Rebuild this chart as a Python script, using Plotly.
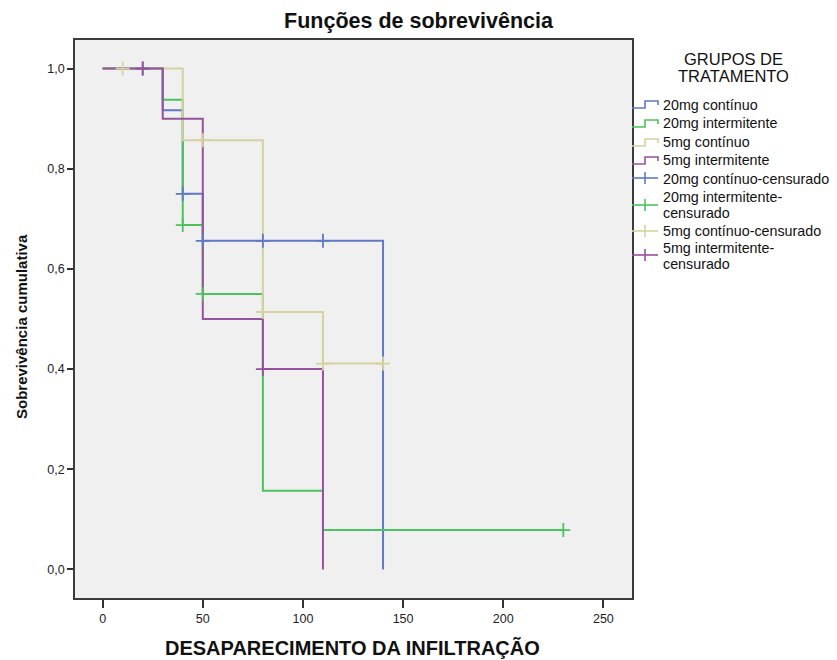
import plotly.graph_objects as go

# Kaplan-Meier step functions: event times and cumulative survival after each step
groups = ["20mg contínuo", "20mg intermitente", "5mg contínuo", "5mg intermitente"]
colors = ["#6078c6", "#4bc35c", "#d6d29e", "#97529b"]

t_20c = [0, 30, 40, 50, 140]
s_20c = [1.0, 0.917, 0.75, 0.656, 0.0]
t_20i = [0, 30, 40, 50, 80, 110, 230]
s_20i = [1.0, 0.9375, 0.6875, 0.55, 0.157, 0.0786, 0.0786]
t_5c = [0, 40, 80, 110, 140]
s_5c = [1.0, 0.857, 0.514, 0.411, 0.411]
t_5i = [0, 30, 50, 80, 110]
s_5i = [1.0, 0.9, 0.5, 0.4, 0.0]

# Censored observations
ct_20c = [20, 40, 50, 80, 110]
cs_20c = [1.0, 0.75, 0.656, 0.656, 0.656]
ct_20i = [40, 50, 230]
cs_20i = [0.6875, 0.55, 0.0786]
ct_5c = [10, 50, 80, 110, 140]
cs_5c = [1.0, 0.857, 0.514, 0.411, 0.411]
ct_5i = [20, 80]
cs_5i = [1.0, 0.4]

curves = [(t_20c, s_20c), (t_20i, s_20i), (t_5c, s_5c), (t_5i, s_5i)]
censors = [(ct_20c, cs_20c), (ct_20i, cs_20i), (ct_5c, cs_5c), (ct_5i, cs_5i)]

x_ticks = [0, 50, 100, 150, 200, 250]
y_ticks = [0.0, 0.2, 0.4, 0.6, 0.8, 1.0]

legend_title = ["GRUPOS DE", "TRATAMENTO"]
legend_labels = [
    ["20mg contínuo"], ["20mg intermitente"], ["5mg contínuo"], ["5mg intermitente"],
    ["20mg contínuo-censurado"], ["20mg intermitente-", "censurado"],
    ["5mg contínuo-censurado"], ["5mg intermitente-", "censurado"],
]

W, H = 837, 660
L, R, T, B = 75, 632, 40, 598
FONT = "Liberation Sans, Arial, sans-serif"

fig = go.Figure()

for name, color, (t, s) in zip(groups, colors, curves):
    fig.add_trace(go.Scatter(
        x=t, y=s, mode="lines", line=dict(color=color, width=2, shape="hv"),
        name=name, showlegend=False, hoverinfo="x+y",
    ))

for name, color, (t, s) in zip(groups, colors, censors):
    fig.add_trace(go.Scatter(
        x=t, y=s, mode="markers",
        marker=dict(symbol="cross-thin", size=10, line=dict(color=color, width=1.8)),
        name=name + "-censurado", showlegend=False,
    ))


def px(xp):
    return (xp - L) / (R - L)


def py(yp):
    return (B - yp) / (B - T)


shapes = []
annotations = []

# Legend: step icons for the survival curves, crosses for censored marks
icon_rows = [104, 123, 142, 160, 178, 205, 231, 255]
text_rows = [[105], [123], [142], [160], [179], [197, 213], [231], [248, 264]]
for i, (lines, yc, rows) in enumerate(zip(legend_labels, icon_rows, text_rows)):
    color = colors[i % 4]
    if i < 4:
        path = (f"M {px(632)},{py(yc + 4)} L {px(645)},{py(yc + 4)} "
                f"L {px(645)},{py(yc - 3)} L {px(658)},{py(yc - 3)} L {px(658)},{py(yc + 1)}")
        shapes.append(dict(type="path", xref="paper", yref="paper", path=path,
                           line=dict(color=color, width=1.6)))
    else:
        shapes.append(dict(type="line", xref="paper", yref="paper",
                           x0=px(632), x1=px(658), y0=py(yc), y1=py(yc),
                           line=dict(color=color, width=1.6)))
        shapes.append(dict(type="line", xref="paper", yref="paper",
                           x0=px(645), x1=px(645), y0=py(yc - 6), y1=py(yc + 6),
                           line=dict(color=color, width=1.6)))
    for text, yr in zip(lines, rows):
        annotations.append(dict(
            text=text, xref="paper", yref="paper", x=px(661), y=py(yr),
            xanchor="left", yanchor="middle", align="left", showarrow=False,
            font=dict(family=FONT, size=14.3, color="#111"),
        ))

for text, yr in zip(legend_title, [59, 76]):
    annotations.append(dict(
        text=text, xref="paper", yref="paper", x=px(733), y=py(yr),
        xanchor="center", yanchor="middle", showarrow=False,
        font=dict(family=FONT, size=16.5, color="#111"),
    ))

annotations.append(dict(
    text="<b>Sobrevivência cumulativa</b>", xref="paper", yref="paper",
    x=px(21), y=py(327), xanchor="center", yanchor="middle", textangle=-90,
    showarrow=False, font=dict(family=FONT, size=15, color="#111"),
))

annotations.append(dict(
    text="<b>DESAPARECIMENTO DA INFILTRAÇÃO</b>", xref="paper", yref="paper",
    x=px(352), y=py(648), xanchor="center", yanchor="middle",
    showarrow=False, font=dict(family=FONT, size=20, color="#111"),
))

fig.update_layout(
    width=W, height=H,
    margin=dict(l=L, r=W - R, t=T, b=H - B, pad=0),
    paper_bgcolor="white", plot_bgcolor="#f0f0f0",
    separators=",.",
    title=dict(text="<b>Funções de sobrevivência</b>", x=0.5, xref="container",
               xanchor="center", y=1 - 20 / H, yref="container", yanchor="middle",
               font=dict(family=FONT, size=21.5, color="#111")),
    shapes=shapes, annotations=annotations,
    showlegend=False,
    xaxis=dict(range=[-13.8, 264.3], tickvals=x_ticks, ticks="outside", ticklen=8,
               tickcolor="#333", tickwidth=1.5, showgrid=False, zeroline=False,
               showline=True, linecolor="#3c3c3c", linewidth=1.6, mirror=True,
               tickfont=dict(family=FONT, size=12.5, color="#222")),
    yaxis=dict(range=[-0.057, 1.057], tickvals=y_ticks, tickformat=".1f",
               ticks="outside", ticklen=6, tickcolor="#333", tickwidth=1.5,
               showgrid=False, zeroline=False, showline=True, linecolor="#3c3c3c",
               linewidth=1.6, mirror=True,
               tickfont=dict(family=FONT, size=12.5, color="#222")),
)

fig.write_html("out.html")
